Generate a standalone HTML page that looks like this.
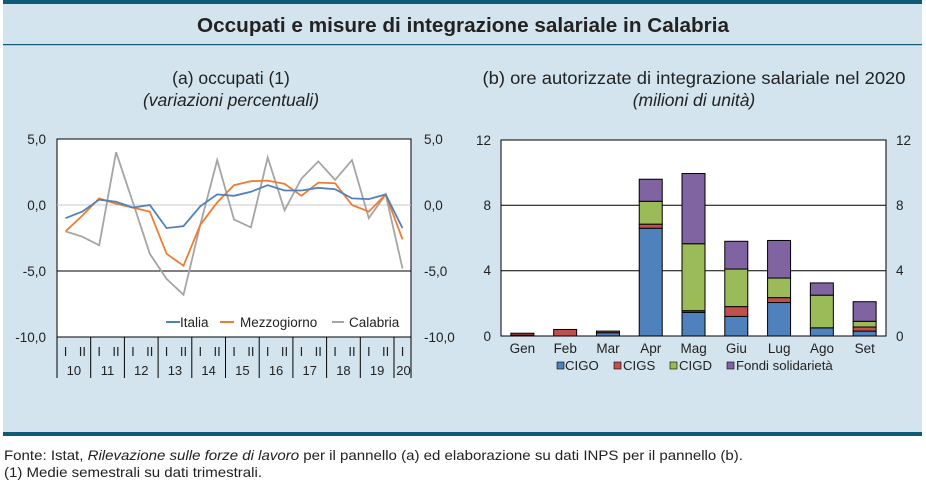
<!DOCTYPE html>
<html><head><meta charset="utf-8">
<style>
body{margin:0;width:926px;height:504px;background:#fff;font-family:"Liberation Sans",Arial,sans-serif;overflow:hidden}
svg{display:block}
text{font-family:"Liberation Sans",Arial,sans-serif;fill:#222}
</style></head><body>
<svg id="s" width="926" height="504" viewBox="0 0 926 504" xmlns="http://www.w3.org/2000/svg">
<rect x="3" y="0" width="919" height="436" fill="#d3e4ee"/>
<rect x="3" y="0" width="919" height="4" fill="#105a78"/>
<rect x="3" y="432" width="919" height="4" fill="#105a78"/>
<rect x="3" y="44" width="919" height="1.2" fill="#105a78"/>
<text x="463" y="32" font-size="20.5" font-weight="bold" text-anchor="middle" textLength="532" lengthAdjust="spacingAndGlyphs">Occupati e misure di integrazione salariale in Calabria</text>
<text x="231" y="84" font-size="17.5" text-anchor="middle">(a) occupati (1)</text>
<text x="231" y="106" font-size="17.5" font-style="italic" text-anchor="middle">(variazioni percentuali)</text>
<text x="694" y="84" font-size="17.5" text-anchor="middle" textLength="423" lengthAdjust="spacingAndGlyphs">(b) ore autorizzate di integrazione salariale nel 2020</text>
<text x="694" y="106" font-size="17.5" font-style="italic" text-anchor="middle">(milioni di unità)</text>

<!-- left chart -->
<rect x="57" y="139" width="354" height="198" fill="#fff" stroke="#000" stroke-width="1"/>
<line x1="57" y1="205" x2="411" y2="205" stroke="#c8c8c8" stroke-width="1"/>
<line x1="57" y1="271" x2="411" y2="271" stroke="#000" stroke-width="1"/>
<g font-size="13.5" text-anchor="end">
<text x="46" y="144">5,0</text><text x="46" y="210">0,0</text><text x="46" y="276">-5,0</text><text x="46" y="342">-10,0</text>
</g>
<g font-size="13.5">
<text x="424" y="144">5,0</text><text x="424" y="210">0,0</text><text x="424" y="276">-5,0</text><text x="424" y="342">-10,0</text>
</g>
<g id="lines"></g>
<g font-size="13.5">
<line x1="166" y1="322" x2="180" y2="322" stroke="#4f81bd" stroke-width="2"/><text x="180" y="327">Italia</text>
<line x1="220" y1="322" x2="234" y2="322" stroke="#ed7d31" stroke-width="2"/><text x="240" y="327">Mezzogiorno</text>
<line x1="332" y1="322" x2="344" y2="322" stroke="#a5a5a5" stroke-width="2"/><text x="349" y="327">Calabria</text>
</g>
<g id="cat" font-size="13" text-anchor="middle"></g>

<!-- right chart -->
<rect x="501" y="140" width="385" height="196" fill="#fff" stroke="#000" stroke-width="1"/>
<line x1="501" y1="205.3" x2="886" y2="205.3" stroke="#000"/>
<line x1="501" y1="270.7" x2="886" y2="270.7" stroke="#000"/>
<g id="bars"></g>
<g font-size="13.5" text-anchor="end">
<text x="491" y="145">12</text><text x="491" y="210">8</text><text x="491" y="275">4</text><text x="491" y="341">0</text>
</g>
<g font-size="13.5">
<text x="896" y="145">12</text><text x="896" y="210">8</text><text x="896" y="275">4</text><text x="896" y="341">0</text>
</g>
<g font-size="13.5" text-anchor="middle">
<text x="522.4" y="353">Gen</text><text x="565.2" y="353">Feb</text><text x="608" y="353">Mar</text><text x="650.8" y="353">Apr</text><text x="693.6" y="353">Mag</text><text x="736.4" y="353">Giu</text><text x="779.2" y="353">Lug</text><text x="822" y="353">Ago</text><text x="864.8" y="353">Set</text>
</g>
<g font-size="13.2">
<rect x="557" y="362" width="7" height="7" fill="#4f81bd" stroke="#000" stroke-width=".6"/><text x="565" y="370">CIGO</text>
<rect x="614" y="362" width="7" height="7" fill="#c0504d" stroke="#000" stroke-width=".6"/><text x="623" y="370">CIGS</text>
<rect x="670" y="362" width="7" height="7" fill="#9bbb59" stroke="#000" stroke-width=".6"/><text x="679" y="370">CIGD</text>
<rect x="727" y="362" width="7" height="7" fill="#8064a2" stroke="#000" stroke-width=".6"/><text x="736" y="370">Fondi solidarietà</text>
</g>

<text x="4" y="460" font-size="14" textLength="739" lengthAdjust="spacingAndGlyphs">Fonte: Istat, <tspan font-style="italic">Rilevazione sulle forze di lavoro</tspan> per il pannello (a) ed elaborazione su dati INPS per il pannello (b).</text>
<text x="4" y="477" font-size="14" textLength="258" lengthAdjust="spacingAndGlyphs">(1) Medie semestrali su dati trimestrali.</text>
</svg>
<script>
var NS="http://www.w3.org/2000/svg";
function el(p,t,a){var e=document.createElementNS(NS,t);for(var k in a)e.setAttribute(k,a[k]);p.appendChild(e);return e;}
var L=document.getElementById("lines");
var series=[
["#a5a5a5",[-2.0,-2.4,-3.05,4.0,0.2,-3.7,-5.6,-6.8,-1.5,3.4,-1.1,-1.7,3.6,-0.4,2.0,3.3,1.9,3.4,-1.0,0.8,-4.8]],
["#ed7d31",[-2.0,-0.8,0.5,0.1,-0.2,-0.5,-3.7,-4.6,-1.5,0.2,1.5,1.8,1.85,1.6,0.7,1.7,1.65,0.0,-0.5,0.8,-2.6]],
["#4f81bd",[-1.0,-0.5,0.4,0.25,-0.2,0.0,-1.75,-1.6,-0.1,0.8,0.7,1.0,1.5,1.1,1.1,1.3,1.2,0.5,0.45,0.8,-1.75]]];
series.forEach(function(s){var pts=s[1].map(function(v,i){return (65.5+i*16.85).toFixed(1)+","+(205-v*13.2).toFixed(1)}).join(" ");
el(L,"polyline",{points:pts,fill:"none",stroke:s[0],"stroke-width":1.8});});
var C=document.getElementById("cat");
for(var y=0;y<=11;y++){var x=57+y*33.7;if(y==11)x=411;el(C,"line",{x1:x,y1:337,x2:x,y2:378,stroke:"#000","stroke-width":1});}
for(var i=0;i<21;i++){var x=65.5+i*16.85;var t=el(C,"text",{x:x,y:356});t.textContent=i%2?"II":"I";}
B=document.getElementById("bars");
var cols=["#4f81bd","#c0504d","#9bbb59","#8064a2"];
var data=[[0.05,0.12,0,0],[0,0.4,0,0],[0.2,0.1,0,0],[6.6,0.25,1.4,1.35],[1.45,0.1,4.1,4.3],[1.2,0.6,2.3,1.7],[2.05,0.3,1.2,2.3],[0.5,0,2.0,0.75],[0.3,0.25,0.35,1.2]];
data.forEach(function(d,j){var cx=501+42.78*(j+0.5),b=0;d.forEach(function(v,k){if(v<=0)return;var y0=336-b*16.33,y1=336-(b+v)*16.33;
el(B,"rect",{x:cx-11.5,y:y1,width:23,height:y0-y1,fill:cols[k],stroke:"#000","stroke-width":1});b+=v;});});
</script>
<script>
(function(){var C=document.getElementById("cat");var yrs=["10","11","12","13","14","15","16","17","18","19","20"];
yrs.forEach(function(s,i){var x=i<10?57+i*33.7+16.85:403.5;var t=document.createElementNS("http://www.w3.org/2000/svg","text");t.setAttribute("x",x);t.setAttribute("y",375);t.textContent=s;C.appendChild(t);});})();
</script>
</body></html>
